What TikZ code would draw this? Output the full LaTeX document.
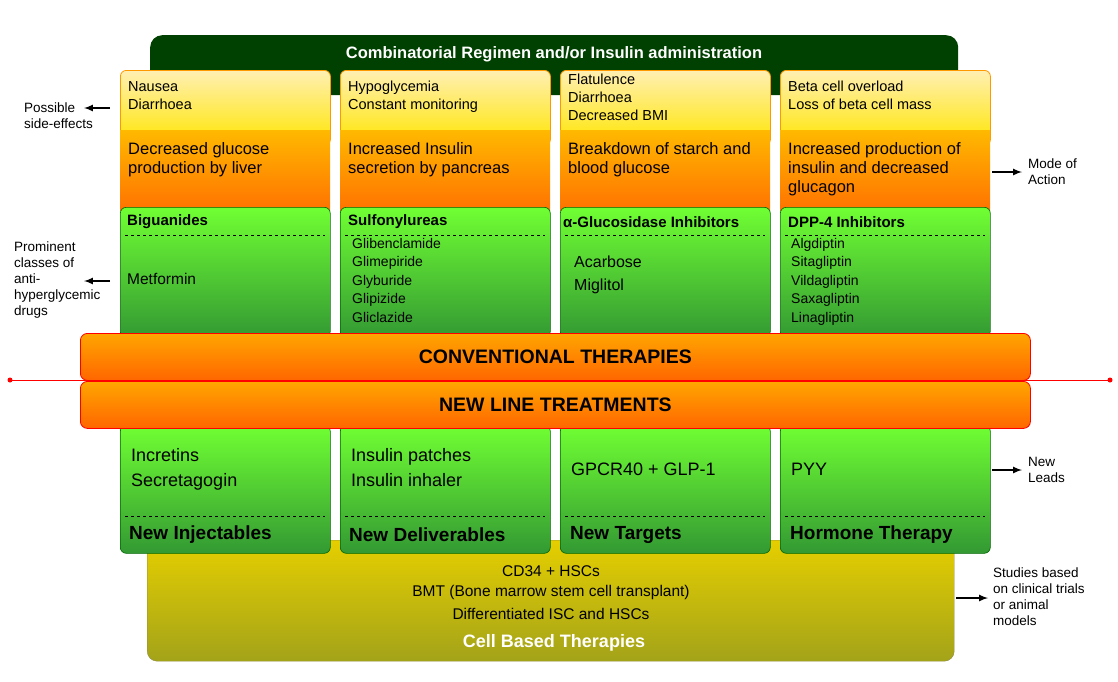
\documentclass[tikz,border=0pt]{standalone}
\usepackage{fontspec}
\setmainfont{Liberation Sans}
\begin{document}
\begin{tikzpicture}[x=1pt,y=-1pt,
 yel/.style={draw=orange!80!yellow,rounded corners=6pt,top color=yellow!60!orange!30!white,bottom color=yellow!80!orange,line width=0.8pt},
 ora/.style={draw=none,top color=orange!55!yellow,bottom color=orange!90!red},
 grn/.style={draw=green!40!black,rounded corners=6pt,top color=green!60!lime!80!white,bottom color=green!50!black!80,line width=0.6pt},
 bar/.style={draw=red,line width=0.8pt,rounded corners=7pt,top color=orange!70!yellow,bottom color=orange!80!red},
 txt/.style={anchor=north west,align=left,font=\fontsize{14.5}{18}\selectfont,inner sep=0pt},
 sm/.style={anchor=north west,align=left,font=\fontsize{14}{18.5}\selectfont,inner sep=0pt},
 hd/.style={anchor=west,font=\bfseries\fontsize{15}{16}\selectfont,inner sep=0pt},
 bh/.style={anchor=west,font=\bfseries\fontsize{19}{21}\selectfont,inner sep=0pt},
 side/.style={anchor=west,align=left,font=\fontsize{13.5}{16}\selectfont,inner sep=0pt},
 arr/.style={-latex,line width=2pt}]
\useasboundingbox (0,0) rectangle (1118,681);
% top band
\node[fill=green!25!black,rounded corners=12pt,minimum width=808pt,minimum height=60pt,anchor=north west] (top) at (150,35) {};
\node[text=white,font=\bfseries\fontsize{16.5}{18}\selectfont] (title) at (554,54) {Combinatorial Regimen and/or Insulin administration};
% bottom box
\node[draw=yellow!50!black,rounded corners=10pt,top color=yellow!80!orange!90!black,bottom color=yellow!60!black!90,minimum width=807pt,minimum height=121pt,anchor=north west] (cell) at (147,540) {};
\node[font=\fontsize{15.5}{17}\selectfont] (c1) at (551,571) {CD34 + HSCs};
\node[font=\fontsize{15.5}{17}\selectfont] (c2) at (551,592) {BMT (Bone marrow stem cell transplant)};
\node[font=\fontsize{15.5}{17}\selectfont] (c3) at (551,614) {Differentiated ISC and HSCs};
\node[text=white,font=\bfseries\fontsize{18}{20}\selectfont] (c4) at (554,643) {Cell Based Therapies};
% columns
\foreach \x/\i in {120/1,340/2,560/3,780/4}{
 \node[yel,minimum width=210pt,minimum height=75pt,anchor=north west] (y\i) at (\x,70) {};
 \node[ora,minimum width=210pt,minimum height=80pt,anchor=north west] (o\i) at (\x,130) {};
 \node[grn,minimum width=210pt,minimum height=130pt,anchor=north west] (g\i) at (\x,207) {};
 \node[grn,minimum width=210pt,minimum height=128pt,anchor=north west] (b\i) at (\x,425) {};
 \draw[dashed,line width=0.5pt] (\x+5,235) -- (\x+205,235);
 \draw[dashed,line width=0.5pt] (\x+5,516) -- (\x+205,516);
}
% side effects
\node[txt] (s1) at (128,81) {Nausea\\Diarrhoea};
\node[txt] (s2) at (348,81) {Hypoglycemia\\Constant monitoring};
\node[txt] (s3) at (568,74) {Flatulence\\Diarrhoea\\Decreased BMI};
\node[txt] (s4) at (788,81) {Beta cell overload\\Loss of beta cell mass};
% mode of action
\node[txt,font=\fontsize{16.5}{19}\selectfont] (m1) at (128,142) {Decreased glucose\\production by liver};
\node[txt,font=\fontsize{16.5}{19}\selectfont] (m2) at (348,142) {Increased Insulin\\secretion by pancreas};
\node[txt,font=\fontsize{16.5}{19}\selectfont] (m3) at (568,142) {Breakdown of starch and\\blood glucose};
\node[txt,font=\fontsize{16.5}{19}\selectfont] (m4) at (788,142) {Increased production of\\insulin and decreased\\glucagon};
% classes
\node[hd] (h1) at (127,222) {Biguanides};
\node[hd] (h2) at (348,222) {Sulfonylureas};
\node[hd] (h3) at (563,222) {α-Glucosidase Inhibitors};
\node[hd] (h4) at (788,222) {DPP-4 Inhibitors};
\node[txt,font=\fontsize{15.5}{17}\selectfont] (d1) at (127,273) {Metformin};
\node[sm] (d2) at (352,238) {Glibenclamide\\Glimepiride\\Glyburide\\Glipizide\\Gliclazide};
\node[txt,font=\fontsize{16}{23}\selectfont] (d3) at (574,256) {Acarbose\\Miglitol};
\node[sm] (d4) at (791,238) {Algdiptin\\Sitagliptin\\Vildagliptin\\Saxagliptin\\Linagliptin};
% red line
\draw[red,line width=0.6pt] (10,380) -- (1110,380);
\fill[red] (10,380) circle (2.5pt) (1110,380) circle (2.5pt);
% bars
\node[bar,minimum width=950pt,minimum height=47pt,anchor=north west] (conv) at (80,333) {};
\node[font=\bfseries\fontsize{19.5}{21}\selectfont] at (conv.center) {CONVENTIONAL THERAPIES};
\node[bar,minimum width=950pt,minimum height=47pt,anchor=north west] (newl) at (80,381) {};
\node[font=\bfseries\fontsize{19.5}{21}\selectfont] at (newl.center) {NEW LINE TREATMENTS};
% new leads
\node[txt,font=\fontsize{18}{25}\selectfont] (n1) at (131,448) {Incretins\\Secretagogin};
\node[txt,font=\fontsize{18}{25}\selectfont] (n2) at (351,448) {Insulin patches\\Insulin inhaler};
\node[txt,font=\fontsize{18}{20}\selectfont] (n3) at (571,463) {GPCR40 + GLP-1};
\node[txt,font=\fontsize{18}{20}\selectfont] (n4) at (791,463) {PYY};
\node[bh] (e1) at (129,535) {New Injectables};
\node[bh] (e2) at (349,535) {New Deliverables};
\node[bh] (e3) at (570,535) {New Targets};
\node[bh] (e4) at (790,535) {Hormone Therapy};
% side labels
\coordinate (a1) at (110,108); \coordinate (a1e) at (84,108);
\draw[arr] (a1) -- (a1e);
\node[side] (l1) at (24,116) {Possible\\side-effects};
\coordinate (a2) at (110,281); \coordinate (a2e) at (84,281);
\draw[arr] (a2) -- (a2e);
\node[side] (l2) at (14,280) {Prominent\\classes of\\anti-\\hyperglycemic\\drugs};
\coordinate (a3) at (992,172); \coordinate (a3e) at (1022,172);
\draw[arr] (a3) -- (a3e);
\node[side] (l3) at (1028,172) {Mode of\\Action};
\coordinate (a4) at (992,470); \coordinate (a4e) at (1022,470);
\draw[arr] (a4) -- (a4e);
\node[side] (l4) at (1028,470) {New\\Leads};
\coordinate (a5) at (956,598); \coordinate (a5e) at (988,598);
\draw[arr] (a5) -- (a5e);
\node[side] (l5) at (993,597) {Studies based\\on clinical trials\\or animal\\models};
\end{tikzpicture}
\end{document}
